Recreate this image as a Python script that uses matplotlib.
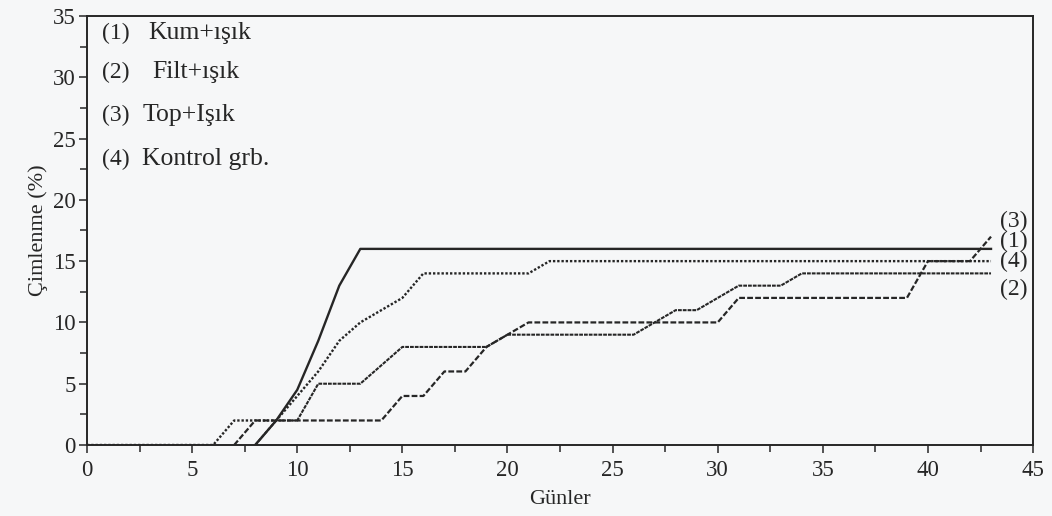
import matplotlib.pyplot as plt
from matplotlib.ticker import MultipleLocator

plt.rcParams["font.family"] = ["Liberation Serif", "DejaVu Serif"]

# daily germination (%) per treatment, days 0..43
days = list(range(0, 44))
kum_isik = [0] * 8 + [2] * 7 + [4, 4, 6, 6, 8, 9] + [10] * 10 + [12] * 9 + [15, 15, 15, 17]
filt_isik = [0] * 9 + [2, 2, 5, 5, 5, 6.5] + [8] * 5 + [9] * 7 + [10, 11, 11, 12] + [13] * 3 + [14] * 10
top_isik = [0] * 9 + [2, 4.5, 8.5, 13] + [16] * 31
kontrol = [0] * 7 + [2, 2, 2, 4, 6, 8.5, 10, 11, 12] + [14] * 6 + [15] * 22

legend_nums = ["(1)", "(2)", "(3)", "(4)"]
legend_names = ["Kum+ışık", "Filt+ışık", "Top+Işık", "Kontrol grb."]
end_labels = ["(1)", "(2)", "(3)", "(4)"]

ink = "#262626"
paper = "#f6f7f8"

fig = plt.figure(figsize=(10.52, 5.16), dpi=100, facecolor=paper)
ax = fig.add_axes([0.0827, 0.1376, 0.8993, 0.8314])
ax.set_facecolor(paper)


def trimmed(values):
    # drop the leading zeros except the last one, like the scanned plot
    first = next(i for i, v in enumerate(values) if v > 0)
    start = max(first - 1, 0)
    return days[start:], values[start:]


series = [
    (kontrol, (0, (1.0, 0.8)), 1.7),
    (kum_isik, (0, (2.6, 1.0)), 1.6),
    (filt_isik, (0, (1.8, 0.5)), 1.5),
    (top_isik, "-", 1.7),
]
for values, style, lw in series:
    if values is kontrol:
        x, y = days, values
    else:
        x, y = trimmed(values)
    ax.plot(x, y, color=ink, linestyle=style, linewidth=lw, zorder=3)

ax.set_xlim(0, 45)
ax.set_ylim(0, 35)
ax.xaxis.set_major_locator(MultipleLocator(5))
ax.xaxis.set_minor_locator(MultipleLocator(2.5))
ax.yaxis.set_major_locator(MultipleLocator(5))
ax.yaxis.set_minor_locator(MultipleLocator(2.5))
ax.tick_params(which="both", direction="out", color=ink, width=1.1, labelsize=16.5, labelcolor=ink)
ax.tick_params(axis="x", which="major", length=6, pad=5)
ax.tick_params(axis="x", which="minor", length=5)
ax.tick_params(axis="y", which="major", length=6, pad=2)
ax.tick_params(axis="y", which="minor", length=5)

for side in ax.spines.values():
    side.set_color(ink)
    side.set_linewidth(1.4)

ax.set_xlabel("Günler", fontsize=16, color=ink, labelpad=6)
ax.set_ylabel("Çimlenme (%)", fontsize=16, color=ink, labelpad=4)

# legend written as plain text in the upper left
legend_y = [33.6, 30.4, 26.9, 23.3]
name_x = [2.9, 3.09, 2.66, 2.62]
for num, name, ly, nx in zip(legend_nums, legend_names, legend_y, name_x):
    ax.text(0.71, ly, num, fontsize=17, color=ink, va="center", ha="left")
    ax.text(nx, ly, name, fontsize=18.5, color=ink, va="center", ha="left")

# series numbers at the right end of the lines
end_y = [16.6, 12.7, 18.2, 15.0]
for text, ly in zip(end_labels, end_y):
    ax.text(43.45, ly, text, fontsize=17, color=ink, va="center", ha="left")

fig.savefig("out.png", dpi=100, facecolor=fig.get_facecolor())
